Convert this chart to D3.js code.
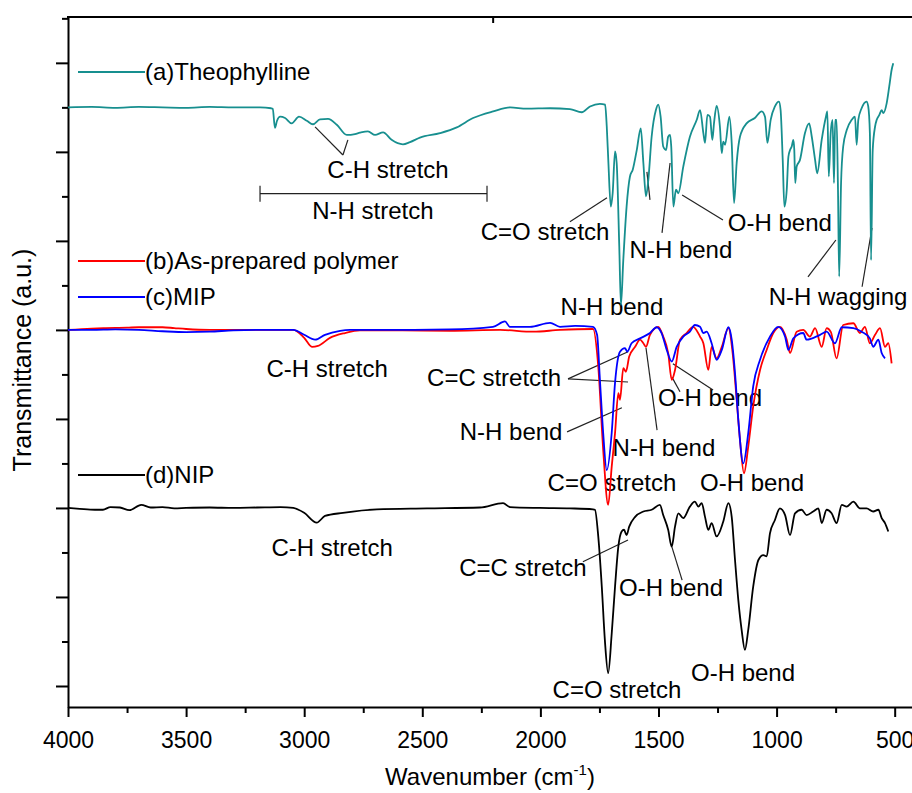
<!DOCTYPE html>
<html>
<head>
<meta charset="utf-8">
<script src="https://cdn.jsdelivr.net/npm/d3@7"></script>
<style>
  body { margin: 0; background: #fff; }
  svg { display: block; font-family: "Liberation Sans", Arial, sans-serif; }
</style>
</head>
<body>
<main></main>
<script>
// spectra: [wavenumber, transmittance (a.u., stacked with offsets)]
const theophylline = [[4000,13.00],[3900,13.01],[3800,12.99],[3700,13.01],[3600,13.00],[3500,12.99],[3400,13.01],[3300,13.00],[3187,13.00],[3140,12.98],[3133,12.97],[3124,12.54],[3115,12.70],[3102,12.79],[3081,12.76],[3053,12.64],[3022,12.79],[2989,12.70],[2963,12.62],[2933,12.73],[2899,12.74],[2862,12.61],[2820,12.38],[2785,12.40],[2764,12.43],[2730,12.46],[2700,12.38],[2666,12.44],[2630,12.27],[2582,12.17],[2552,12.22],[2510,12.32],[2425,12.42],[2354,12.55],[2285,12.76],[2200,12.91],[2128,13.00],[2058,12.97],[1959,12.98],[1875,12.96],[1825,12.89],[1790,13.02],[1748,13.08],[1726,13.06],[1719,12.57],[1712,11.75],[1702,10.77],[1694,11.07],[1684,12.01],[1677,11.75],[1666,9.87],[1659,8.56],[1649,9.57],[1635,10.77],[1621,11.44],[1609,11.60],[1592,12.04],[1575,12.53],[1564,11.75],[1553,11.00],[1543,11.37],[1529,12.34],[1511,12.94],[1501,13.06],[1491,12.79],[1480,12.12],[1468,12.04],[1459,12.34],[1451,12.38],[1446,12.12],[1437,10.77],[1426,11.15],[1416,11.07],[1395,11.67],[1367,12.34],[1338,12.72],[1324,12.94],[1310,12.42],[1303,12.20],[1293,12.83],[1282,12.79],[1272,12.27],[1265,12.64],[1254,13.03],[1240,12.57],[1232,11.97],[1226,12.23],[1218,12.16],[1200,12.79],[1190,12.20],[1180,10.85],[1169,11.75],[1155,12.34],[1127,12.64],[1092,12.76],[1063,12.91],[1049,12.79],[1039,12.20],[1025,12.72],[1007,13.02],[990,13.13],[983,12.94],[974,11.82],[967,10.77],[957,11.15],[950,11.89],[943,12.04],[936,12.12],[929,12.27],[925,12.04],[921,11.30],[915,11.67],[901,11.82],[880,12.42],[862,12.64],[851,12.34],[837,11.82],[828,11.52],[809,12.27],[791,12.79],[785,12.91],[779,11.45],[771,12.42],[763,12.72],[757,11.30],[752,12.72],[746,12.72],[740,11.15],[735,9.20],[727,11.30],[718,12.12],[703,12.49],[682,12.72],[668,12.79],[661,12.16],[654,12.72],[640,12.98],[619,13.13],[612,13.02],[605,12.42],[600,9.57],[593,12.04],[583,12.57],[576,12.72],[565,12.83],[555,12.94],[548,12.87],[534,13.09],[523,13.47],[513,13.84],[506,13.99]];

const asPrepared = [[4000,8.00],[3900,8.03],[3850,8.04],[3750,8.05],[3700,8.06],[3600,8.06],[3550,8.04],[3500,8.02],[3400,8.00],[3200,8.00],[3100,8.00],[3046,8.00],[3000,7.82],[2967,7.62],[2942,7.64],[2891,7.82],[2827,7.93],[2764,7.99],[2594,7.99],[2383,7.98],[2171,8.00],[2031,7.96],[1917,8.00],[1777,8.02],[1755,7.18],[1734,5.30],[1713,4.07],[1698,4.93],[1684,5.68],[1670,6.58],[1663,6.43],[1649,7.14],[1638,7.06],[1624,7.40],[1599,7.62],[1578,7.78],[1564,7.70],[1553,7.62],[1536,7.89],[1501,8.07],[1480,7.85],[1459,7.48],[1444,6.88],[1430,7.10],[1409,7.78],[1381,7.93],[1353,8.07],[1324,7.85],[1310,7.70],[1289,7.10],[1275,7.62],[1254,7.36],[1232,7.62],[1204,8.04],[1186,7.48],[1169,6.43],[1155,5.53],[1138,4.78],[1120,5.38],[1099,6.28],[1070,7.10],[1042,7.55],[1014,7.93],[986,8.07],[957,7.78],[943,7.48],[915,7.96],[887,8.00],[859,7.85],[837,8.04],[809,7.62],[788,8.04],[770,7.95],[746,7.36],[718,8.11],[675,8.15],[647,7.93],[626,8.07],[605,7.70],[583,7.89],[562,8.04],[541,7.62],[527,7.70],[513,7.25]];

const mip = [[4000,8.00],[3900,8.00],[3800,8.01],[3700,8.00],[3600,7.97],[3500,7.95],[3400,7.96],[3300,7.99],[3200,8.00],[3046,8.00],[3000,7.89],[2954,7.78],[2912,7.89],[2848,7.98],[2806,8.00],[2594,8.00],[2383,8.01],[2201,8.07],[2150,8.19],[2129,8.07],[2044,8.07],[1959,8.16],[1917,8.07],[1853,8.09],[1777,8.07],[1760,7.89],[1748,6.88],[1735,5.75],[1719,4.85],[1698,5.69],[1684,6.81],[1663,7.51],[1642,7.59],[1632,7.51],[1614,7.70],[1578,7.81],[1536,7.93],[1508,8.06],[1487,7.93],[1465,7.55],[1444,7.29],[1423,7.62],[1395,7.85],[1367,7.96],[1346,8.11],[1324,8.07],[1310,7.93],[1296,7.96],[1275,7.70],[1254,7.33],[1232,7.55],[1204,8.06],[1190,7.78],[1176,7.03],[1162,5.98],[1141,5.00],[1120,5.68],[1099,6.73],[1070,7.33],[1028,7.85],[993,8.07],[964,7.85],[950,7.55],[929,7.81],[887,7.93],[873,7.78],[816,7.89],[788,7.96],[753,7.70],[724,8.06],[675,8.04],[640,7.96],[605,7.81],[591,7.62],[569,7.78],[555,7.48],[541,7.36]];

const nip = [[4000,4.00],[3950,3.98],[3886,3.96],[3852,3.96],[3820,4.02],[3780,4.01],[3740,3.95],[3690,4.07],[3650,4.01],[3600,4.02],[3550,3.99],[3500,4.00],[3400,4.01],[3300,4.00],[3200,4.01],[3100,4.02],[3046,4.00],[3000,3.89],[2947,3.67],[2912,3.82],[2836,3.89],[2692,3.97],[2480,3.99],[2256,4.01],[2158,4.11],[2129,4.02],[2002,4.00],[1875,3.99],[1777,3.97],[1769,3.96],[1755,3.36],[1740,2.23],[1727,1.03],[1713,0.29],[1698,1.18],[1684,2.23],[1670,3.13],[1656,3.47],[1646,3.51],[1635,3.39],[1624,3.58],[1599,3.80],[1564,3.92],[1529,3.96],[1494,4.07],[1480,3.84],[1459,3.51],[1444,3.13],[1430,3.58],[1416,3.88],[1395,3.77],[1367,4.03],[1346,4.14],[1331,4.03],[1317,4.11],[1303,3.80],[1289,3.51],[1275,3.66],[1254,3.36],[1226,3.69],[1204,4.11],[1190,3.80],[1176,2.83],[1162,1.93],[1148,1.26],[1134,0.81],[1120,1.26],[1099,2.23],[1077,2.83],[1056,2.94],[1042,2.91],[1028,3.43],[1007,3.73],[986,3.99],[964,3.84],[943,3.39],[922,3.88],[894,3.96],[873,3.84],[845,3.92],[823,3.99],[809,3.66],[788,3.96],[767,3.88],[746,3.66],[724,4.07],[703,4.03],[675,4.14],[647,3.99],[619,3.99],[591,3.92],[569,3.96],[555,3.77],[541,3.66],[527,3.47]];

const xMajorTicks = [4000,3500,3000,2500,2000,1500,1000,500];
const xMinorTicks = [3750,3250,2750,2250,1750,1250,750];
const yMajorTicks = [0,2,4,6,8,10,12,14];
const yMinorTicks = [1,3,5,7,9,11,13,15];

const seriesNames = ['(a)Theophylline','(b)As-prepared polymer','(c)MIP','(d)NIP'];

// band labels: [text, wavenumber, transmittance]
const labels = [
  ['C-H stretch',2645,11.60],['N-H stretch',2709,10.67],['C=O stretch',1980,10.20],
  ['N-H bend',1697,8.52],['N-H bend',1405,9.80],['O-H bend',986,10.40],['N-H wagging',740,8.74],
  ['C-H stretch',2903,7.12],['C=C stretcth',2196,6.92],['N-H bend',2124,5.71],['N-H bend',1477,5.35],
  ['O-H bend',1282,6.47],['C=O stretch',1697,4.56],['O-H bend',1104,4.58],
  ['C-H stretch',2882,3.10],['C=C stretch',2074,2.67],['O-H bend',1447,2.20],
  ['C=O stretch',1676,-0.09],['O-H bend',1142,0.31]
];
// leader lines: [wn1, T1, wn2, T2]
const leaders = [
  [2954,12.56,2836,11.93],[2815,12.27,2836,11.93],[1875,10.43,1718,10.97],
  [1485,10.18,1451,11.75],[1549,11.55,1536,10.92],[1227,10.47,1400,11.03],
  [867,9.19,749,10.02],[638,8.97,596,10.29],
  [1883,6.90,1629,7.51],[1883,6.90,1629,6.83],[1887,5.71,1655,6.25],
  [1506,5.75,1553,7.60],[1439,7.24,1269,6.65],[1443,6.94,1409,6.61],
  [1820,2.79,1629,3.28],[1400,2.38,1443,3.12]
];
const nhStretchRange = [3187,2226,11.06];

const width = 912, height = 793;
const plot = {left:68, right:918.3, top:17, bottom:707};

const x = d3.scaleLinear().domain([4000,400]).range([plot.left, plot.right]);
const y = d3.scaleLinear().domain([-0.472,15.03]).range([plot.bottom, plot.top]);

const svg = d3.select('main').append('svg')
  .attr('width', width).attr('height', height);
svg.append('rect').attr('width', width).attr('height', height).attr('fill', '#fff');

// axes
const styleAxis = g => {
  g.selectAll('path,line').attr('stroke', '#000').attr('stroke-width', 2);
  g.selectAll('text').attr('font-size', 23).attr('fill', '#000')
    .attr('font-family', '"Liberation Sans", Arial, sans-serif');
};
svg.append('g').attr('transform', `translate(0,${plot.bottom})`)
  .call(d3.axisBottom(x).tickValues(xMajorTicks).tickFormat(d3.format('d'))
    .tickSize(10).tickSizeOuter(0).tickPadding(15))
  .call(styleAxis);
svg.append('g').attr('transform', `translate(0,${plot.bottom})`)
  .call(d3.axisBottom(x).tickValues(xMinorTicks).tickSize(6).tickFormat(''))
  .call(g => g.select('.domain').remove())
  .call(styleAxis);
svg.append('g').attr('transform', `translate(${plot.left},0)`)
  .call(d3.axisLeft(y).tickValues(yMajorTicks).tickSize(12).tickSizeOuter(0).tickFormat(''))
  .call(styleAxis);
svg.append('g').attr('transform', `translate(${plot.left},0)`)
  .call(d3.axisLeft(y).tickValues(yMinorTicks).tickSize(6).tickFormat(''))
  .call(g => g.select('.domain').remove())
  .call(styleAxis);
svg.append('line')
  .attr('x1', plot.left - 1).attr('x2', width).attr('y1', plot.top).attr('y2', plot.top)
  .attr('stroke', '#000').attr('stroke-width', 2);
svg.append('line')
  .attr('x1', x(2200)).attr('x2', x(2200)).attr('y1', plot.top).attr('y2', plot.top + 6)
  .attr('stroke', '#000').attr('stroke-width', 2);

// axis titles
const xt = svg.append('text').attr('x', 490).attr('y', 785)
  .attr('text-anchor', 'middle').attr('font-size', 24);
xt.append('tspan').text('Wavenumber (cm');
xt.append('tspan').attr('font-size', 15).attr('dy', -10).text('-1');
xt.append('tspan').attr('dy', 10).text(')');
svg.append('text').attr('transform', 'translate(22,360) rotate(-90)')
  .attr('text-anchor', 'middle').attr('dy', '0.35em').attr('font-size', 25)
  .text('Transmittance (a.u.)');

// band labels and leader lines
const ann = svg.append('g').attr('font-size', 24).attr('fill', '#000');
ann.selectAll('text').data(labels).join('text')
  .attr('x', d => x(d[1])).attr('y', d => y(d[2])).attr('dy', '0.35em')
  .attr('text-anchor', 'middle').text(d => d[0]);
const lead = svg.append('g').attr('stroke', '#222').attr('stroke-width', 1.2);
lead.selectAll('line').data(leaders).join('line')
  .attr('x1', d => x(d[0])).attr('y1', d => y(d[1]))
  .attr('x2', d => x(d[2])).attr('y2', d => y(d[3]));
const [r0, r1, rT] = nhStretchRange;
lead.append('line').attr('x1', x(r0)).attr('x2', x(r1)).attr('y1', y(rT)).attr('y2', y(rT));
[r0, r1].forEach(w => lead.append('line')
  .attr('x1', x(w)).attr('x2', x(w)).attr('y1', y(rT) - 8).attr('y2', y(rT) + 8));

// spectra
const colors = ['#178f8f', '#ff0000', '#0000ff', '#000000'];
const line = d3.line().x(d => x(d[0])).y(d => y(d[1])).curve(d3.curveMonotoneX);
[theophylline, asPrepared, mip, nip].forEach((s, i) => {
  svg.append('path').datum(s).attr('d', line)
    .attr('fill', 'none').attr('stroke', colors[i]).attr('stroke-width', 1.8)
    .attr('stroke-linejoin', 'round');
});

// legend
const legendRows = [72, 261, 297, 475];
seriesNames.forEach((name, i) => {
  svg.append('line').attr('x1', 78).attr('x2', 145)
    .attr('y1', legendRows[i]).attr('y2', legendRows[i])
    .attr('stroke', colors[i]).attr('stroke-width', 2);
  svg.append('text').attr('x', 145).attr('y', legendRows[i]).attr('dy', '0.35em')
    .attr('font-size', 24).text(name);
});
</script>
</body>
</html>
